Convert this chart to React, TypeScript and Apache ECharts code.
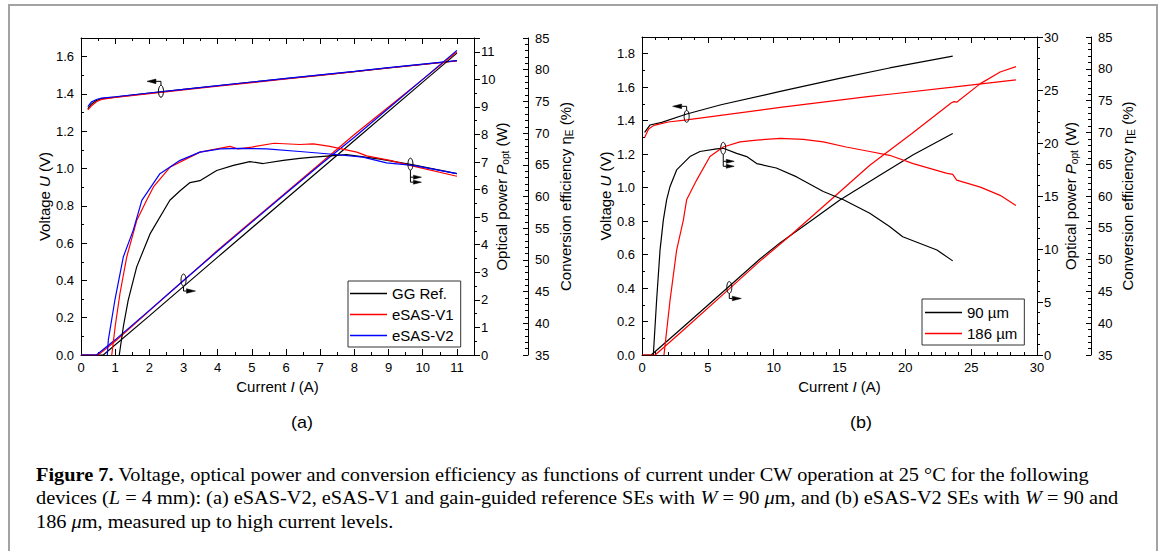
import React, { useEffect, useRef } from "react";
import * as echarts from "echarts";

const SANS = "'Liberation Sans', Arial, sans-serif";
const SERIF = "'Liberation Serif', 'Times New Roman', serif";
const BLACK = "#000000";
const RED = "#ff0000";
const BLUE = "#0000ff";

// ---------------- Panel (a) ----------------
const aVoltCurrent = [0.2, 0.3, 0.45, 0.6, 1, 2, 3, 4, 5, 6, 7, 8, 9, 10, 11];
const aVoltRef = [1.32, 1.345, 1.365, 1.375, 1.383, 1.404, 1.424, 1.444, 1.463, 1.482, 1.501, 1.52, 1.54, 1.559, 1.578];
const aVoltV1 = [1.315, 1.335, 1.358, 1.371, 1.381, 1.402, 1.422, 1.442, 1.461, 1.48, 1.499, 1.519, 1.539, 1.558, 1.577];
const aVoltV2 = [1.332, 1.356, 1.37, 1.378, 1.385, 1.405, 1.425, 1.445, 1.464, 1.483, 1.502, 1.521, 1.541, 1.56, 1.579];

const aPowRefCurrent = [0, 0.65, 2, 4, 6, 8, 10, 11];
const aPowRef = [0, 0, 1.42, 3.55, 5.67, 7.78, 9.9, 10.95];
const aPowV1Current = [0, 0.5, 1, 2, 3, 4, 5, 6, 7, 8, 9, 10, 11];
const aPowV1 = [0, 0, 0.5, 1.6, 2.7, 3.8, 4.85, 5.9, 6.95, 8.0, 9.0, 10.0, 11.0];
const aPowV2Current = [0, 0.45, 1, 2, 3, 4, 5, 6, 7, 8, 9, 10, 11];
const aPowV2 = [0, 0, 0.55, 1.62, 2.7, 3.77, 4.82, 5.87, 6.9, 7.9, 8.95, 10.0, 11.05];

const aEffRefCurrent = [1.12, 1.24, 1.38, 1.63, 2.02, 2.6, 2.9, 3.19, 3.48, 3.97, 4.46, 4.94, 5.33, 5.92, 6.4, 6.8, 7.77, 8.75, 9.72, 11];
const aEffRef = [35, 39.5, 43.6, 48.9, 54.1, 59.4, 60.9, 62.2, 62.5, 64.1, 64.9, 65.5, 65.2, 65.7, 66.0, 66.2, 66.6, 65.9, 65.0, 63.6];
const aEffV1Current = [0.9, 1.0, 1.14, 1.34, 1.63, 1.92, 2.12, 2.6, 3.48, 4.36, 4.6, 5.0, 5.65, 6.4, 6.8, 7.28, 8.07, 8.36, 9.04, 9.72, 11];
const aEffV1 = [35, 39.5, 44.7, 50.5, 56.2, 59.4, 61.5, 64.6, 67.0, 67.9, 67.5, 67.8, 68.4, 68.2, 68.3, 67.9, 67.0, 66.4, 65.7, 64.8, 63.2];
const aEffV2Current = [0.77, 0.8, 0.99, 1.24, 1.53, 1.78, 2.31, 2.9, 3.48, 4.07, 4.65, 5.43, 6.4, 7.28, 8.25, 8.94, 9.72, 11];
const aEffV2 = [35, 37.4, 43.6, 50.5, 54.7, 59.4, 63.6, 65.7, 67.0, 67.5, 67.6, 67.5, 67.1, 66.7, 66.2, 65.3, 64.9, 63.6];

// ---------------- Panel (b) ----------------
const bVolt90Current = [0.2, 0.6, 1.5, 3.4, 6, 10.5, 15, 18.8, 23.6];
const bVolt90 = [1.33, 1.374, 1.39, 1.44, 1.495, 1.575, 1.653, 1.715, 1.786];
const bVolt186Current = [0.2, 0.5, 0.9, 2, 3.4, 10.5, 17.3, 18.8, 23.6, 28.4];
const bVolt186 = [1.3, 1.35, 1.372, 1.392, 1.405, 1.479, 1.545, 1.558, 1.6, 1.644];

const bPow90Current = [0, 0.7, 3, 6.5, 9, 10.5, 13, 15, 18, 20.6, 23.6];
const bPow90 = [0, 0, 2.5, 6.35, 9.1, 10.6, 12.8, 14.6, 16.9, 18.9, 20.9];
const bPow186Current = [0, 1.0, 3, 6.5, 9, 11.2, 14.3, 17.3, 20.5, 23.5, 23.7, 23.9, 25.7, 27.2, 28.4];
const bPow186 = [0, 0, 2.2, 6.1, 8.9, 11.2, 14.6, 17.9, 20.9, 23.8, 23.9, 23.85, 25.6, 26.7, 27.2];

const bEff90Current = [0.86, 1.11, 1.37, 1.62, 1.87, 2.13, 2.63, 3.64, 4.4, 5.67, 6.17, 7.19, 7.95, 8.71, 10.2, 11.75, 13.77, 15.3, 17.3, 18.8, 19.8, 22.4, 23.6];
const bEff90 = [35, 43.6, 51.5, 56.2, 59.4, 61.5, 64.1, 66.2, 67.0, 67.4, 67.5, 66.7, 66.2, 65.1, 64.4, 63.0, 60.7, 59.4, 57.3, 55.2, 53.6, 51.5, 49.8];
const bEff186Current = [1.67, 2.13, 2.63, 3.14, 3.39, 4.15, 5.16, 6.17, 7.44, 8.71, 10.5, 12.25, 13.77, 15.5, 17.3, 18.8, 20.6, 23.1, 23.6, 23.9, 25.7, 27.2, 28.4];
const bEff186 = [35, 43.6, 51.5, 56.2, 59.4, 62.5, 66.2, 67.7, 68.5, 68.8, 69.05, 68.9, 68.5, 67.7, 67.0, 66.4, 65.1, 63.6, 63.4, 62.5, 61.4, 60.1, 58.5];

// legends
const aLegend = ["GG Ref.", "eSAS-V1", "eSAS-V2"];
const bLegend = ["90 µm", "186 µm"];

// annotation anchors [current, value]
const aMarkVolt = [2.34, 1.414];
const aMarkPow = [3.0, 2.72];
const aMarkEff = [9.64, 65.1];
const bMarkVolt = [3.39, 1.426];
const bMarkEff = [6.17, 67.5];
const bMarkPow = [6.63, 6.37];

const captionLines = [
  "{b|Figure 7.} Voltage, optical power and conversion efficiency as functions of current under CW operation at 25 °C for the following",
  "devices ({i|L} = 4 mm): (a) eSAS-V2, eSAS-V1 and gain-guided reference SEs with {i|W} = 90 {i|μ}m, and (b) eSAS-V2 SEs with {i|W} = 90 and",
  "186 {i|μ}m, measured up to high current levels.",
];

function pairs(xs: number[], ys: number[]) {
  return xs.map((x, i) => [x, ys[i]]);
}

function line(name: string, color: string, xi: number, yi: number, xs: number[], ys: number[]) {
  return {
    name,
    type: "line",
    xAxisIndex: xi,
    yAxisIndex: yi,
    data: pairs(xs, ys),
    symbol: "none",
    showSymbol: false,
    color,
    lineStyle: { color, width: 1.2 },
    itemStyle: { color },
    silent: true,
    clip: true,
  };
}

const nameStyle = {
  fontSize: 15,
  fontFamily: SANS,
  color: "#000",
  lineHeight: 18,
  rich: {
    i: { fontStyle: "italic", fontSize: 15, fontFamily: SANS, color: "#000", lineHeight: 18 },
    s: { fontSize: 10, fontFamily: SANS, color: "#000", lineHeight: 8, verticalAlign: "bottom" },
  },
};

const isMult = (v: number, step: number) => Math.abs(v / step - Math.round(v / step)) < 1e-6;

function valueAxis(o: any) {
  return {
    type: "value",
    gridIndex: o.grid,
    position: o.position,
    offset: o.offset || 0,
    min: o.min,
    max: o.max,
    interval: o.interval,
    axisLine: { show: true, onZero: false, lineStyle: { color: "#000", width: 1 } },
    axisTick: { show: true, inside: o.inside, length: o.tickLen || 6, lineStyle: { color: "#000", width: 1 } },
    minorTick: { show: true, splitNumber: o.minor, length: o.minorLen || 3, lineStyle: { color: "#000", width: 1 } },
    splitLine: { show: false },
    minorSplitLine: { show: false },
    axisLabel: o.noLabel
      ? { show: false }
      : {
          show: true,
          color: "#000",
          fontSize: 13,
          fontFamily: SANS,
          margin: o.margin || 7,
          formatter: o.formatter,
        },
    name: o.name || "",
    nameLocation: "middle",
    nameGap: o.nameGap || 20,
    nameTextStyle: nameStyle,
    nameMoveOverlap: false,
  };
}

export default function App() {
  const ref = useRef<HTMLDivElement>(null);

  useEffect(() => {
    if (!ref.current) return;
    const chart = echarts.init(ref.current, undefined, { renderer: "svg" });

    const intFmt = (v: number) => (isMult(v, 1) ? String(Math.round(v)) : "");
    const voltFmt = (v: number) => (isMult(v, 0.2) ? v.toFixed(1) : "");
    const plainFmt = (v: number) => String(Math.round(v));

    const xAxes = [
      valueAxis({ grid: 0, position: "bottom", min: 0, max: 11.5, interval: 1, minor: 2, inside: true, formatter: intFmt, margin: 6, name: "Current {i|I} (A)", nameGap: 22 }),
      valueAxis({ grid: 0, position: "top", min: 0, max: 11.5, interval: 1, minor: 2, inside: true, noLabel: true }),
      valueAxis({ grid: 1, position: "bottom", min: 0, max: 30, interval: 5, minor: 5, inside: true, formatter: plainFmt, margin: 6, name: "Current {i|I} (A)", nameGap: 22 }),
      valueAxis({ grid: 1, position: "top", min: 0, max: 30, interval: 5, minor: 5, inside: true, noLabel: true }),
    ];
    const yAxes = [
      valueAxis({ grid: 0, position: "left", min: 0, max: 1.7, interval: 0.2, minor: 2, inside: true, formatter: voltFmt, name: "Voltage {i|U} (V)", nameGap: 28 }),
      valueAxis({ grid: 0, position: "right", min: 0, max: 11.5, interval: 1, minor: 2, inside: false, formatter: intFmt, name: "Optical power {i|P}{s|opt} (W)", nameGap: 18 }),
      valueAxis({ grid: 0, position: "right", offset: 54, min: 35, max: 85, interval: 5, minor: 5, inside: true, tickLen: 5, minorLen: 3, formatter: plainFmt, name: "Conversion efficiency η{s|E} (%)", nameGap: 28 }),
      valueAxis({ grid: 1, position: "left", min: 0, max: 1.9, interval: 0.2, minor: 2, inside: true, formatter: voltFmt, name: "Voltage {i|U} (V)", nameGap: 28 }),
      valueAxis({ grid: 1, position: "right", min: 0, max: 30, interval: 5, minor: 5, inside: false, formatter: plainFmt, name: "Optical power {i|P}{s|opt} (W)", nameGap: 24 }),
      valueAxis({ grid: 1, position: "right", offset: 54, min: 35, max: 85, interval: 5, minor: 5, inside: true, tickLen: 5, minorLen: 3, formatter: plainFmt, name: "Conversion efficiency η{s|E} (%)", nameGap: 27 }),
    ];

    const series = [
      line(aLegend[0], BLACK, 0, 0, aVoltCurrent, aVoltRef),
      line(aLegend[1], RED, 0, 0, aVoltCurrent, aVoltV1),
      line(aLegend[2], BLUE, 0, 0, aVoltCurrent, aVoltV2),
      line(aLegend[0], BLACK, 0, 1, aPowRefCurrent, aPowRef),
      line(aLegend[1], RED, 0, 1, aPowV1Current, aPowV1),
      line(aLegend[2], BLUE, 0, 1, aPowV2Current, aPowV2),
      line(aLegend[0], BLACK, 0, 2, aEffRefCurrent, aEffRef),
      line(aLegend[1], RED, 0, 2, aEffV1Current, aEffV1),
      line(aLegend[2], BLUE, 0, 2, aEffV2Current, aEffV2),
      line(bLegend[0], BLACK, 2, 3, bVolt90Current, bVolt90),
      line(bLegend[1], RED, 2, 3, bVolt186Current, bVolt186),
      line(bLegend[0], BLACK, 2, 4, bPow90Current, bPow90),
      line(bLegend[1], RED, 2, 4, bPow186Current, bPow186),
      line(bLegend[0], BLACK, 2, 5, bEff90Current, bEff90),
      line(bLegend[1], RED, 2, 5, bEff186Current, bEff186),
    ];

    const legendBase = {
      orient: "vertical",
      icon: "rect",
      itemWidth: 37,
      itemHeight: 1.3,
      itemGap: 6,
      borderColor: "#333",
      borderWidth: 1,
      selectedMode: false,
      textStyle: { fontSize: 15, fontFamily: SANS, color: "#000", lineHeight: 14 },
    };

    chart.setOption({
      animation: false,
      backgroundColor: "#ffffff",
      grid: [
        { left: 81, top: 38, width: 393, height: 317, containLabel: false, outerBoundsMode: "none" },
        { left: 642, top: 37, width: 395, height: 318, containLabel: false, outerBoundsMode: "none" },
      ],
      legend: [
        { ...legendBase, data: aLegend, left: 348, top: 281, padding: [5, 7, 4, 2] },
        { ...legendBase, data: bLegend, left: 922, top: 299, padding: [6, 7, 4, 3] },
      ],
      xAxis: xAxes,
      yAxis: yAxes,
      series,
    });

    const px = (xi: number, yi: number, p: number[]) =>
      chart.convertToPixel({ xAxisIndex: xi, yAxisIndex: yi } as any, p) as unknown as number[];

    const ell = (cx: number, cy: number) => ({
      type: "ellipse",
      shape: { cx, cy, rx: 2.5, ry: 6 },
      style: { fill: "rgba(0,0,0,0)", stroke: "#000", lineWidth: 1 },
      silent: true,
      z: 10,
    });
    const pl = (points: number[][]) => ({
      type: "polyline",
      shape: { points },
      style: { stroke: "#000", lineWidth: 1, fill: null },
      silent: true,
      z: 10,
    });
    const head = (points: number[][]) => ({
      type: "polygon",
      shape: { points },
      style: { fill: "#000", stroke: "#000", lineWidth: 0.5 },
      silent: true,
      z: 10,
    });
    const leftMark = (p: number[]) => {
      const [cx, cy] = p;
      return [ell(cx, cy), pl([[cx, cy - 6], [cx, cy - 10], [cx - 5, cy - 10]]), head([[cx - 5, cy - 12.3], [cx - 5, cy - 7.7], [cx - 14, cy - 10]])];
    };
    const rightMark = (p: number[]) => {
      const [cx, cy] = p;
      return [ell(cx, cy), pl([[cx, cy + 6], [cx, cy + 11], [cx + 3, cy + 11]]), head([[cx + 3, cy + 8.7], [cx + 3, cy + 13.3], [cx + 12, cy + 11]])];
    };
    const doubleMark = (p: number[]) => {
      const [cx, cy] = p;
      return [
        ell(cx, cy),
        pl([[cx, cy + 6], [cx, cy + 18], [cx + 3, cy + 18]]),
        pl([[cx, cy + 13], [cx + 3, cy + 13]]),
        head([[cx + 3, cy + 11], [cx + 3, cy + 15], [cx + 11, cy + 13]]),
        head([[cx + 3, cy + 16], [cx + 3, cy + 20], [cx + 11, cy + 18]]),
      ];
    };

    const captionRich = {
      b: { fontWeight: "bold", fontSize: 18, fontFamily: SERIF, fill: "#000" },
      i: { fontStyle: "italic", fontSize: 18, fontFamily: SERIF, fill: "#000" },
    };
    const captionY = [475, 498, 522];

    const graphic: any[] = [
      {
        type: "rect",
        shape: { x: 9, y: 5, width: 1148, height: 600 },
        style: { fill: "rgba(0,0,0,0)", stroke: "#a3a3a3", lineWidth: 2 },
        silent: true,
        z: -1,
      },
      ...leftMark(px(0, 0, aMarkVolt)),
      ...rightMark(px(0, 1, aMarkPow)),
      ...doubleMark(px(0, 2, aMarkEff)),
      ...leftMark(px(2, 3, bMarkVolt)),
      ...doubleMark(px(2, 5, bMarkEff)),
      ...rightMark(px(2, 4, bMarkPow)),
      {
        type: "text",
        x: 302,
        y: 423,
        scaleX: 1.12,
        style: { text: "(a)", fontSize: 16, fontFamily: SANS, fill: "#000", align: "center", verticalAlign: "middle" },
      },
      {
        type: "text",
        x: 861,
        y: 423,
        scaleX: 1.12,
        style: { text: "(b)", fontSize: 16, fontFamily: SANS, fill: "#000", align: "center", verticalAlign: "middle" },
      },
      ...captionLines.map((t, k) => ({
        type: "text",
        x: 36,
        y: captionY[k],
        scaleX: 1.13,
        style: {
          text: t,
          fontSize: 18,
          fontFamily: SERIF,
          fill: "#000",
          align: "left",
          verticalAlign: "middle",
          rich: captionRich,
        },
      })),
    ];

    chart.setOption({ graphic });

    return () => chart.dispose();
  }, []);

  return (
    <div
      ref={ref}
      style={{ position: "fixed", left: 0, top: 0, width: 1168, height: 551, background: "#fff" }}
    />
  );
}
